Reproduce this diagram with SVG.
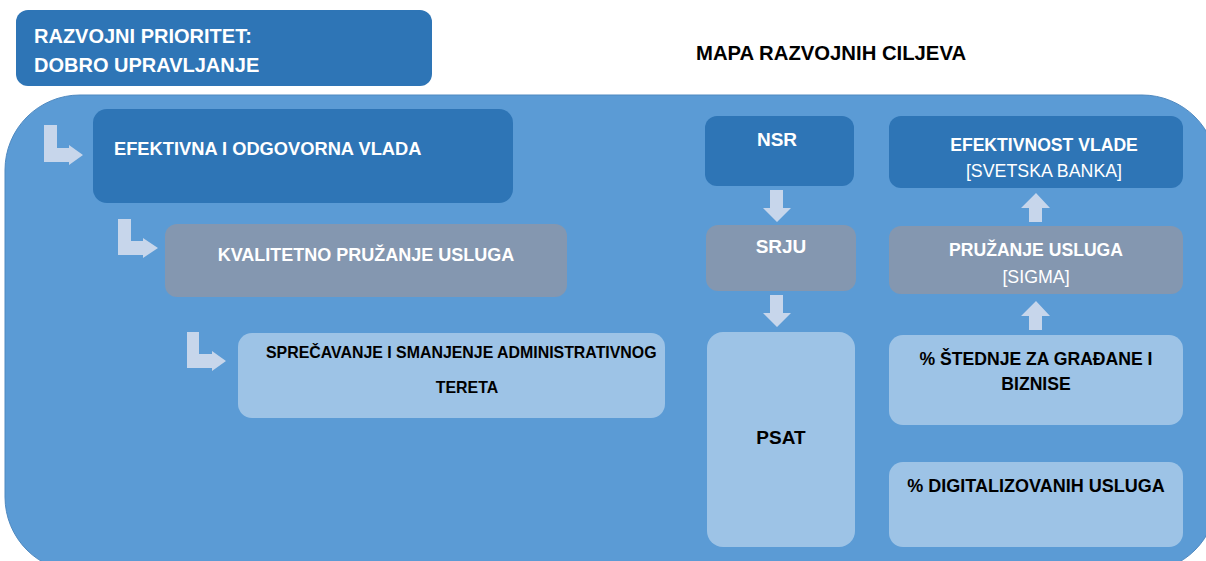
<svg xmlns="http://www.w3.org/2000/svg" width="1206" height="561" viewBox="0 0 1206 561">
<style>
.dark{fill:#2E75B6}
.gray{fill:#8497B0}
.light{fill:#9DC3E6}
.arr{fill:#C7D6EB}
text{font-family:"Liberation Sans",Arial,sans-serif}
.w{fill:#FFFFFF;font-weight:bold}
.wr{fill:#FFFFFF;font-weight:normal}
.k{fill:#000000;font-weight:bold}
</style>
<rect width="1206" height="561" fill="#FFFFFF"/>
<g id="container">
<rect x="5" y="95" width="1212" height="477" rx="75" ry="75" fill="#5B9BD5" stroke="#4F89C0" stroke-width="1"/>
</g>
<g id="title">
<rect x="16" y="10" width="416" height="76" rx="12" class="dark"/>
<text x="34" y="43" class="w" font-size="20">RAZVOJNI PRIORITET:</text>
<text x="34" y="72" class="w" font-size="20">DOBRO UPRAVLJANJE</text>
</g>
<g id="heading">
<text x="696" y="60" class="k" font-size="20.3">MAPA RAZVOJNIH CILJEVA</text>
</g>
<g id="connectors">
<path class="arr" d="M44,125 H57 V148 H69 V145 L83,155 L69,165 V162 H44 Z"/>
<path class="arr" d="M118,219 H131 V241 H143 V238 L158,248 L143,258 V255 H118 Z"/>
<path class="arr" d="M187,332 H199 V354 H212 V351 L226,361 L212,371 V368 H187 Z"/>
<path class="arr" d="M770,190 H783 V208 H791 L777,222 L763,208 H770 Z"/>
<path class="arr" d="M770,295 H783 V313 H791 L777,327 L763,313 H770 Z"/>
<path class="arr" d="M1029,222 H1042 V208 H1050 L1036,193 L1021,208 H1029 Z"/>
<path class="arr" d="M1029,330 H1042 V316 H1050 L1036,301 L1021,316 H1029 Z"/>
</g>
<g id="efektivna">
<rect x="93" y="109" width="420" height="94" rx="14" class="dark"/>
<text x="114" y="155" class="w" font-size="18.3">EFEKTIVNA I ODGOVORNA VLADA</text>
</g>
<g id="kvalitetno">
<rect x="165" y="224" width="402" height="73" rx="12" class="gray"/>
<text x="366" y="261" class="w" font-size="18" text-anchor="middle">KVALITETNO PRUŽANJE USLUGA</text>
</g>
<g id="sprecavanje">
<rect x="238" y="333" width="427" height="85" rx="14" class="light"/>
<text x="266" y="358" class="k" font-size="15.9">SPREČAVANJE I SMANJENJE ADMINISTRATIVNOG</text>
<text x="467" y="393" class="k" font-size="15.9" text-anchor="middle">TERETA</text>
</g>
<g id="nsr">
<rect x="705" y="116" width="149" height="70" rx="12" class="dark"/>
<text x="777" y="146" class="w" font-size="19" text-anchor="middle">NSR</text>
</g>
<g id="srju">
<rect x="706" y="225" width="150" height="66" rx="12" class="gray"/>
<text x="781" y="253" class="w" font-size="19" text-anchor="middle">SRJU</text>
</g>
<g id="psat">
<rect x="707" y="332" width="148" height="215" rx="16" class="light"/>
<text x="781" y="444" class="k" font-size="19" text-anchor="middle">PSAT</text>
</g>
<g id="efektivnost">
<rect x="889" y="116" width="294" height="72" rx="12" class="dark"/>
<text x="1044" y="151" class="w" font-size="17.6" text-anchor="middle">EFEKTIVNOST VLADE</text>
<text x="1044" y="177" class="wr" font-size="17.8" text-anchor="middle">[SVETSKA BANKA]</text>
</g>
<g id="pruzanje">
<rect x="889" y="226" width="294" height="68" rx="12" class="gray"/>
<text x="1036" y="256" class="w" font-size="17.6" text-anchor="middle">PRUŽANJE USLUGA</text>
<text x="1036" y="283" class="wr" font-size="17.8" text-anchor="middle">[SIGMA]</text>
</g>
<g id="stednje">
<rect x="889" y="335" width="294" height="90" rx="14" class="light"/>
<text x="1036" y="365" class="k" font-size="17.6" text-anchor="middle">% ŠTEDNJE ZA GRAĐANE I</text>
<text x="1036" y="390" class="k" font-size="17.6" text-anchor="middle">BIZNISE</text>
</g>
<g id="digitalizovanih">
<rect x="889" y="462" width="294" height="85" rx="14" class="light"/>
<text x="1036" y="492" class="k" font-size="18" text-anchor="middle">% DIGITALIZOVANIH USLUGA</text>
</g>
</svg>
